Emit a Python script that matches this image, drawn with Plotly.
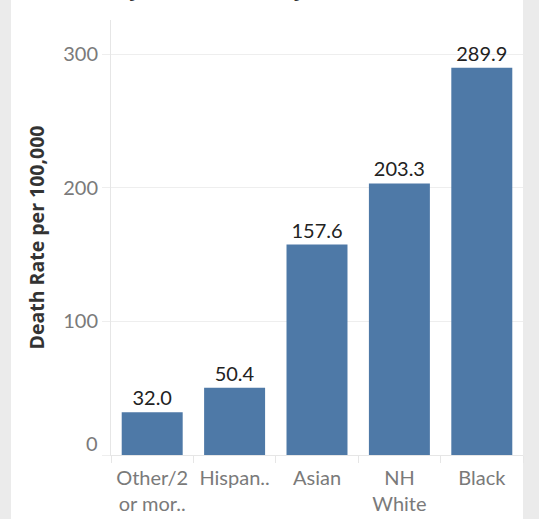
import plotly.graph_objects as go

categories = ["Other/2<br>or mor..", "Hispan..", "Asian", "NH<br>White", "Black"]
values = [32.0, 50.4, 157.6, 203.3, 289.9]
labels = ["32.0", "50.4", "157.6", "203.3", "289.9"]
y_ticks = [0, 100, 200, 300]
y_ticktext = ["", "100", "200", "300"]

W, H = 539, 519
L, R, T, B = 111, 16, 20, 64
pw = W - L - R
ph = H - T - B
FONT = "Lato"

fig = go.Figure(go.Bar(
    x=categories, y=values, text=labels, textposition="outside",
    textfont=dict(family=FONT, size=20, color="#222222"),
    marker=dict(color="#4e79a7", line=dict(width=0)),
    cliponaxis=False, hoverinfo="skip",
))

fig.update_layout(
    width=W, height=H,
    margin=dict(l=L, r=R, t=T, b=B, autoexpand=False),
    paper_bgcolor="#ebebeb", plot_bgcolor="white",
    bargap=0.26, showlegend=False,
    font=dict(family=FONT),
    shapes=[dict(type="rect", xref="paper", yref="paper",
                 x0=(11 - L) / pw, x1=1.0, y0=-B / ph - 0.05, y1=1 + T / ph + 0.05,
                 fillcolor="white", line=dict(width=0), layer="below")],
    annotations=[
        dict(text="0", xref="paper", yref="y", x=0, y=0, xanchor="right", yanchor="middle",
             xshift=-11, yshift=12, showarrow=False,
             font=dict(family=FONT, size=20, color="#7a7a7a")),
        dict(text="<b>Death Rate by Race/Ethnicity, 2020</b>", xref="paper", yref="paper",
             x=(-15 - L) / pw, y=1, xanchor="left", yanchor="bottom", yshift=T - 4,
             showarrow=False, font=dict(family="Open Sans", size=22, color="#333333")),
    ],
)
fig.update_xaxes(
    showline=True, linecolor="#e6e6e6", linewidth=1,
    ticks="outside", tickson="boundaries", ticklen=7, tickcolor="#e6e6e6",
    ticklabelstandoff=5,
    tickfont=dict(family=FONT, size=20, color="#7a7a7a"),
    showgrid=False, fixedrange=True, automargin=False,
)
fig.update_yaxes(
    range=[0, 325.7], tickvals=y_ticks, ticktext=y_ticktext,
    showgrid=True, gridcolor="#eeeeee", gridwidth=1,
    showline=True, linecolor="#e6e6e6", zeroline=False,
    ticks="outside", ticklen=8, tickcolor="#eeeeee",
    tickfont=dict(family=FONT, size=20, color="#7a7a7a"),
    title=dict(text="<b>Death Rate per 100,000</b>", standoff=13,
               font=dict(family="Open Sans", size=19.5, color="#333333")),
    fixedrange=True, automargin=False,
)

fig.write_html("out.html", config={"displayModeBar": False},
               post_script="document.body.style.margin='0';document.body.style.overflow='hidden';")
